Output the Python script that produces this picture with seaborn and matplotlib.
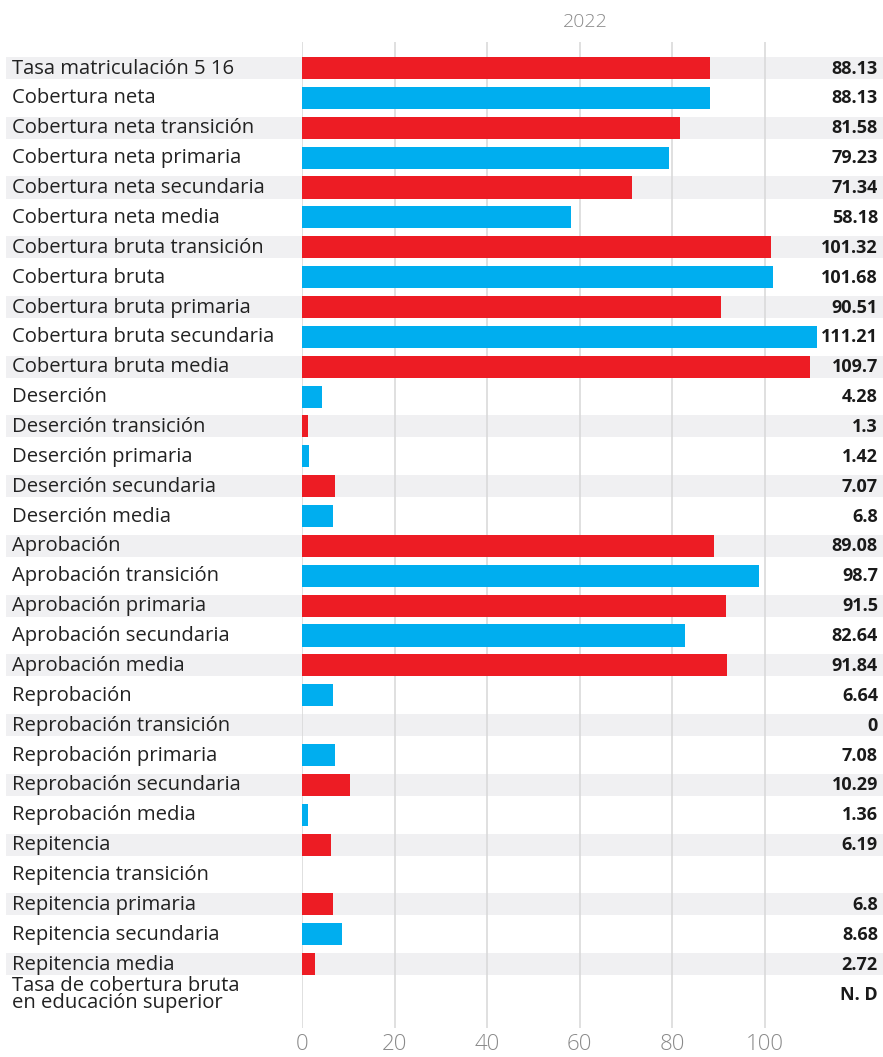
import numpy as np
import pandas as pd
import matplotlib
matplotlib.use("Agg")
import matplotlib.pyplot as plt
import matplotlib.transforms as mtransforms
import seaborn as sns

indicators = [
    "Tasa matriculación 5 16",
    "Cobertura neta",
    "Cobertura neta transición",
    "Cobertura neta primaria",
    "Cobertura neta secundaria",
    "Cobertura neta media",
    "Cobertura bruta transición",
    "Cobertura bruta",
    "Cobertura bruta primaria",
    "Cobertura bruta secundaria",
    "Cobertura bruta media",
    "Deserción",
    "Deserción transición",
    "Deserción primaria",
    "Deserción secundaria",
    "Deserción media",
    "Aprobación",
    "Aprobación transición",
    "Aprobación primaria",
    "Aprobación secundaria",
    "Aprobación media",
    "Reprobación",
    "Reprobación transición",
    "Reprobación primaria",
    "Reprobación secundaria",
    "Reprobación media",
    "Repitencia",
    "Repitencia transición",
    "Repitencia primaria",
    "Repitencia secundaria",
    "Repitencia media",
    "Tasa de cobertura bruta\nen educación superior",
]
values_2022 = [
    88.13, 88.13, 81.58, 79.23, 71.34, 58.18, 101.32, 101.68, 90.51, 111.21,
    109.7, 4.28, 1.3, 1.42, 7.07, 6.8, 89.08, 98.7, 91.5, 82.64, 91.84,
    6.64, 0, 7.08, 10.29, 1.36, 6.19, np.nan, 6.8, 8.68, 2.72, np.nan,
]
value_labels = [
    "88.13", "88.13", "81.58", "79.23", "71.34", "58.18", "101.32", "101.68",
    "90.51", "111.21", "109.7", "4.28", "1.3", "1.42", "7.07", "6.8", "89.08",
    "98.7", "91.5", "82.64", "91.84", "6.64", "0", "7.08", "10.29", "1.36",
    "6.19", "", "6.8", "8.68", "2.72", "N. D",
]
year = "2022"
x_ticks = [0, 20, 40, 60, 80, 100]

RED = "#ED1C24"
BLUE = "#00AEEF"
STRIPE = "#F0F0F2"

df = pd.DataFrame({"indicador": indicators, "valor": values_2022})
df["grupo"] = ["a" if i % 2 == 0 else "b" for i in range(len(df))]

sns.set_theme(style="white")
plt.rcParams["font.family"] = ["Open Sans", "DejaVu Sans"]

W, H = 883, 1057
fig = plt.figure(figsize=(W / 100, H / 100), dpi=100)
ax_left, ax_right = 302 / W, 1.0
ax_top, ax_bot = 1 - 42 / H, 1 - 1028 / H
ax = fig.add_axes([ax_left, ax_bot, ax_right - ax_left, ax_top - ax_bot])

# row stripes
for i in range(0, len(df), 2):
    ax.axhspan(i - 0.37, i + 0.37, xmin=(6 - 302) / (W - 302), xmax=1,
               color=STRIPE, zorder=0, clip_on=False, lw=0)

for t in x_ticks:
    ax.axvline(t, color="#DADADA", lw=1.2, zorder=1)

sns.barplot(data=df, x="valor", y="indicador", hue="grupo",
            palette={"a": RED, "b": BLUE}, orient="h", width=0.74,
            saturation=1, legend=False, ax=ax, zorder=2, linewidth=0)

ax.set_xlim(0, (W - 302) / 4.63)
ax.set_ylim(32.14, -0.87)
ax.set_xticks(x_ticks)
ax.set_xticklabels([str(t) for t in x_ticks], color="#8A8A8A", fontsize=16,
                   fontweight="light")
ax.tick_params(axis="x", length=0, pad=4)
ax.set_yticks([])
ax.set_xlabel("")
ax.set_ylabel("")
for s in ax.spines.values():
    s.set_visible(False)

trans_lab = mtransforms.blended_transform_factory(fig.transFigure, ax.transData)
trans_val = mtransforms.blended_transform_factory(ax.transAxes, ax.transData)
for i, (name, lab) in enumerate(zip(indicators, value_labels)):
    ax.text(12 / W, i + 0.02, name, transform=trans_lab, ha="left", va="center",
            fontsize=14.6, color="#222222", linespacing=0.8)
    ax.text((878 - 302) / (W - 302), i + 0.02, lab, transform=trans_val,
            ha="right", va="center", fontsize=13, fontweight="bold",
            color="#1A1A1A")

fig.text(585 / W, 1 - 22 / H, year, ha="center", va="center",
         fontsize=14, color="#8A8A8A", fontweight="light")

fig.savefig("out.png", dpi=100)
